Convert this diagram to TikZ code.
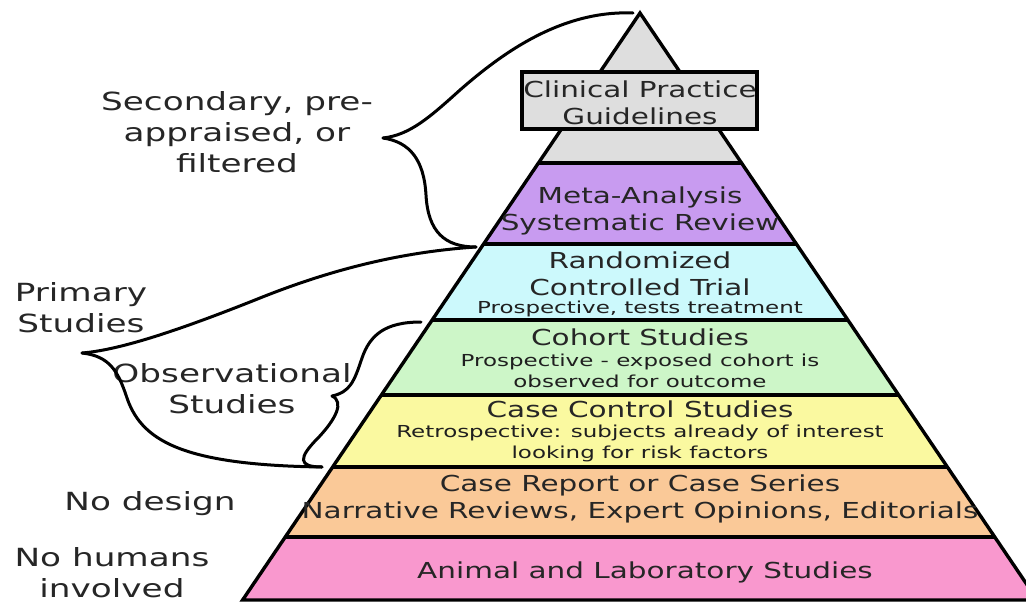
\documentclass[tikz,border=0pt]{standalone}
\usepackage{fontspec}
\setmainfont{DejaVu Sans}
\newfontfamily\sidefont[FakeStretch=1.37]{DejaVu Sans}
\newfontfamily\bandfont[FakeStretch=1.34]{DejaVu Sans}
\newfontfamily\notefont[FakeStretch=1.39]{DejaVu Sans}

\definecolor{guidegray}{RGB}{222,222,222}
\definecolor{metapurple}{RGB}{200,155,240}
\definecolor{rctcyan}{RGB}{204,249,252}
\definecolor{cohortgreen}{RGB}{205,246,200}
\definecolor{casectlyellow}{RGB}{250,249,160}
\definecolor{reportorange}{RGB}{250,201,152}
\definecolor{animalpink}{RGB}{249,152,206}

\tikzset{
	edge/.style={line width=3.4pt},
	brace/.style={line width=3pt, line cap=round},
	side/.style={font=\sidefont\fontsize{25}{31}\selectfont, text=black!85, align=center, inner sep=0pt},
	title/.style={font=\bandfont\fontsize{22}{27}\selectfont, text=black!85, align=center, inner sep=0pt},
	note/.style={font=\notefont\fontsize{16.5}{21}\selectfont, text=black!88, align=center, inner sep=0pt},
}

\begin{document}
\begin{tikzpicture}[x=1pt, y=-1pt]
		\useasboundingbox (0,0) rectangle (1026,603);
		\clip (0,0) rectangle (1026,603);
		% bands of the pyramid
		\fill[guidegray] (640,13) -- (538.4,163) -- (741.6,163) -- cycle;
		\fill[metapurple] (538.4,163) -- (483.6,244) -- (796.4,244) -- (741.6,163) -- cycle;
		\fill[rctcyan] (483.6,244) -- (432.2,320) -- (847.8,320) -- (796.4,244) -- cycle;
		\fill[cohortgreen] (432.2,320) -- (381.4,395) -- (898.6,395) -- (847.8,320) -- cycle;
		\fill[casectlyellow] (381.4,395) -- (332.6,467) -- (947.4,467) -- (898.6,395) -- cycle;
		\fill[reportorange] (332.6,467) -- (285.3,537) -- (994.7,537) -- (947.4,467) -- cycle;
		\fill[animalpink] (285.3,537) -- (242.6,600) -- (1037.4,600) -- (994.7,537) -- cycle;
		% outline
		\draw[edge] (640,13) -- (242.6,600) -- (1037.4,600) -- cycle;
		\draw[edge] (538.4,163) -- (741.6,163);
		\draw[edge] (483.6,244) -- (796.4,244);
		\draw[edge] (432.2,320) -- (847.8,320);
		\draw[edge] (381.4,395) -- (898.6,395);
		\draw[edge] (332.6,467) -- (947.4,467);
		\draw[edge] (285.3,537) -- (994.7,537);
		\draw[edge, fill=guidegray] (522,72) rectangle (757,129);

		% texts in the bands (base = last line)
		\node[title, anchor=base] (clinical) at (640,124) {Clinical Practice\\Guidelines};
		\node[title, anchor=base] (meta) at (640,230) {Meta-Analysis\\Systematic Review};
		\node[title, anchor=base] (rct) at (640,295) {Randomized\\Controlled Trial};
		\node[note, anchor=base] (rctnote) at (640,313) {Prospective, tests treatment};
		\node[title, anchor=base] (cohort) at (640,345) {Cohort Studies};
		\node[note, anchor=base] (cohortnote) at (640,387) {Prospective - exposed cohort is\\observed for outcome};
		\node[title, anchor=base] (casectl) at (640,417) {Case Control Studies};
		\node[note, anchor=base] (casectlnote) at (640,458) {Retrospective: subjects already of interest\\looking for risk factors};
		\node[title, anchor=base] (report) at (640,518) {Case Report or Case Series\\Narrative Reviews, Expert Opinions, Editorials};
		\node[title, anchor=base] (animal) at (645,578) {Animal and Laboratory Studies};

		% labels on the left
		\node[side, anchor=base] (secondary) at (237,172) {Secondary, pre-\\appraised, or\\filtered};
		\node[side, anchor=base] (primary) at (81,332) {Primary\\Studies};
		\node[side, anchor=base] (observational) at (232,413) {Observational\\Studies};
		\node[side, anchor=base] (nodesign) at (150,510) {No design};
		\node[side, anchor=base] (nohumans) at (112,597) {No humans\\involved};

		% braces
		\coordinate (sectop) at (633,13);
		\coordinate (sectip) at (383,138);
		\coordinate (metaleft) at (476,247);
		\coordinate (primtip) at (82,353);
		\coordinate (cohortleft) at (421,322);
		\coordinate (obstip) at (332,396);
		\coordinate (reportleft) at (322,467);
		\draw[brace] (sectop) .. controls (560,10) and (500,55) .. (460,90) .. controls (430,117) and (410,135) .. (sectip);
		\draw[brace] (sectip) .. controls (410,142) and (424,160) .. (426,195) .. controls (428,232) and (445,247) .. (metaleft);
		\draw[brace] (metaleft) .. controls (400,252) and (330,270) .. (260,298) .. controls (180,330) and (120,350) .. (primtip);
		\draw[brace] (primtip) .. controls (110,356) and (118,372) .. (126,395) .. controls (140,440) and (180,465) .. (reportleft);
		\draw[brace] (cohortleft) .. controls (385,322) and (370,335) .. (362,358) .. controls (354,382) and (350,392) .. (obstip);
		\draw[brace] (obstip) .. controls (345,402) and (335,420) .. (318,438) .. controls (298,458) and (298,467) .. (reportleft);
	\end{tikzpicture}
\end{document}
